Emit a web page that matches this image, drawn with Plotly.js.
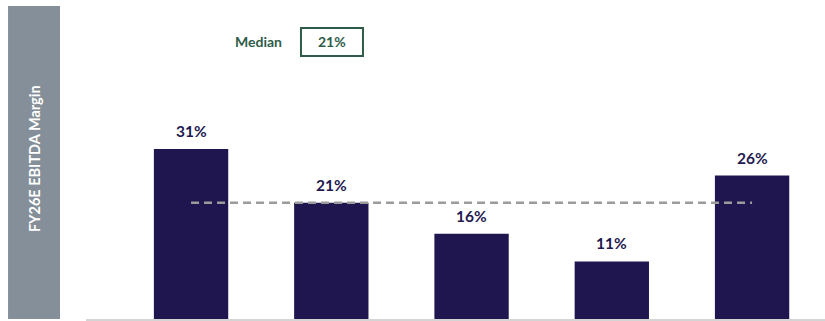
<!DOCTYPE html>
<html>
<head>
<meta charset="utf-8">
<script src="https://cdn.plot.ly/plotly-3.0.1.min.js"></script>
<style>html,body{margin:0;padding:0;background:#fff;}#chart{width:825px;height:321px;}</style>
</head>
<body>
<div id="chart"></div>
<script>
// Data
var categories = ["A", "B", "C", "D", "E"];
var margins = [31.3, 21.4, 15.7, 10.6, 26.4];
var medianValue = 21.4;
var axisTitle = "FY26E EBITDA Margin";
var medianLabel = "Median";

var FONT = "Lato, 'Open Sans', sans-serif";
var BAR = "#1f1650";
var GREEN = "#2e5c48";

function pct(v) { return Math.round(v) + "%"; }

var bars = {
  type: "bar",
  x: categories,
  y: margins,
  width: 0.53,
  marker: { color: BAR, line: { width: 0 } },
  hoverinfo: "skip"
};

var medLine = {
  type: "scatter",
  mode: "lines",
  x: [categories[0], categories[categories.length - 1]],
  y: [medianValue, medianValue],
  line: { color: "#9b9b9b", width: 2.5, dash: "8px,5px" },
  hoverinfo: "skip"
};

var annotations = categories.map(function (c, i) {
  return {
    x: c, y: margins[i], xref: "x", yref: "y",
    text: "<b>" + pct(margins[i]) + "</b>",
    showarrow: false, xanchor: "center", yanchor: "bottom", yshift: 7,
    font: { family: FONT, size: 15.5, color: "#1f1a4f" }
  };
});
annotations.push({
  x: -0.0704, y: 0.514, xref: "paper", yref: "paper",
  xanchor: "center", yanchor: "middle",
  text: "<b>" + axisTitle + "</b>", textangle: -90, showarrow: false,
  font: { family: FONT, size: 14.5, color: "#ffffff" }
});
annotations.push({
  x: 0.2341, y: 0.885, xref: "paper", yref: "paper",
  xanchor: "center", yanchor: "middle",
  text: "<b>" + medianLabel + "</b>", showarrow: false,
  font: { family: FONT, size: 14, color: GREEN }
});
annotations.push({
  x: 0.3329, y: 0.885, xref: "paper", yref: "paper",
  xanchor: "center", yanchor: "middle",
  text: "<b>" + pct(medianValue) + "</b>", showarrow: false,
  font: { family: FONT, size: 14, color: GREEN }
});

var layout = {
  width: 825, height: 321,
  margin: { l: 86, r: 0, t: 6, b: 2, pad: 0 },
  paper_bgcolor: "#ffffff", plot_bgcolor: "#ffffff",
  showlegend: false,
  xaxis: {
    type: "category", range: [-0.749, 4.52],
    showline: true, linecolor: "#d4d4d4", linewidth: 1.5,
    showticklabels: false, ticks: "", showgrid: false, zeroline: false
  },
  yaxis: {
    range: [0, 57.6], visible: false, showgrid: false, zeroline: false
  },
  shapes: [
    { type: "rect", xref: "paper", yref: "paper",
      x0: -0.1055, x1: -0.0352, y0: 0, y1: 1.0,
      fillcolor: "#858f99", line: { width: 0 }, layer: "below" },
    { type: "rect", xref: "paper", yref: "paper",
      x0: 0.2909, x1: 0.3748, y0: 0.8403, y1: 0.9297,
      fillcolor: "rgba(0,0,0,0)", line: { color: GREEN, width: 2 } }
  ],
  annotations: annotations
};

Plotly.newPlot("chart", [bars, medLine], layout, { staticPlot: true, displayModeBar: false });
</script>
</body>
</html>
